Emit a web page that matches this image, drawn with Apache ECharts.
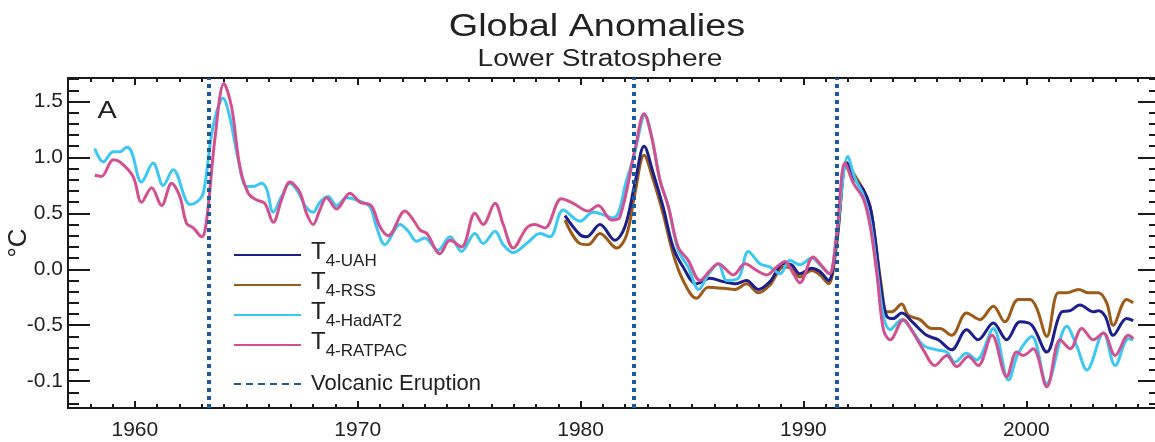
<!DOCTYPE html>
<html>
<head>
<meta charset="utf-8">
<script src="https://cdn.jsdelivr.net/npm/echarts@6/dist/echarts.min.js"></script>
<style>
  html, body { margin: 0; padding: 0; background: #fff; }
  #Echarts_Div { width: 1155px; height: 442px; }
</style>
</head>
<body>
<div id="Echarts_Div"></div>
<script>
var FONT = '"Liberation Sans", Arial, sans-serif';

// HadAT2 radiosonde (1958 - 2005)
var hadYears = [1958.2, 1958.58, 1959.03, 1959.33, 1959.63, 1959.85, 1960.3, 1960.82, 1961.27, 1961.72,
    1962.47, 1962.77, 1963.07, 1963.5, 1963.96, 1964.26, 1964.64, 1965.01, 1965.31, 1965.69,
    1965.91, 1966.21, 1966.58, 1966.96, 1967.33, 1967.63, 1968.0, 1968.3, 1968.67, 1969.05,
    1969.5, 1969.94, 1970.54, 1970.84, 1971.22, 1971.9, 1972.27, 1972.64, 1973.0, 1973.6,
    1974.14, 1974.66, 1975.26, 1975.63, 1976.16, 1976.53, 1976.98, 1977.58, 1978.18, 1978.63,
    1979.22, 1979.97, 1980.57, 1981.47, 1982.07, 1982.44, 1982.89, 1983.2, 1983.56, 1983.94,
    1984.38, 1984.83, 1985.3, 1985.75, 1986.18, 1986.56, 1987.08, 1987.53, 1988.05, 1988.5,
    1988.95, 1989.4, 1989.84, 1990.37, 1990.74, 1991.16, 1991.49, 1992.0, 1992.3, 1992.69,
    1993.0, 1993.3, 1993.59, 1993.89, 1994.41, 1994.85, 1995.38, 1995.98, 1996.43, 1996.8,
    1997.32, 1997.77, 1998.52, 1999.2, 1999.64, 2000.25, 2000.92, 2001.82, 2002.27, 2002.72,
    2003.46, 2003.99, 2004.58, 2004.8];
var hadVals = [1.08, 0.96, 1.05, 1.05, 1.09, 1.05, 0.78, 0.95, 0.75, 0.89,
    0.58, 0.60, 0.68, 1.27, 1.53, 1.36, 0.98, 0.74, 0.74, 0.77,
    0.72, 0.51, 0.65, 0.77, 0.69, 0.57, 0.51, 0.60, 0.65, 0.57,
    0.64, 0.62, 0.56, 0.38, 0.22, 0.40, 0.34, 0.25, 0.28, 0.17,
    0.29, 0.16, 0.32, 0.23, 0.34, 0.22, 0.15, 0.23, 0.32, 0.29,
    0.53, 0.43, 0.51, 0.46, 0.80, 1.05, 1.38, 1.18, 0.80, 0.56,
    0.17, 0.02, -0.18, -0.04, 0.05, -0.10, -0.08, 0.16, 0.05, 0.02,
    -0.04, 0.08, 0.04, 0.10, 0.04, -0.04, 0.30, 1.01, 0.82, 0.66,
    0.43, 0.00, -0.42, -0.54, -0.45, -0.54, -0.68, -0.72, -0.74, -0.83,
    -0.75, -0.81, -0.53, -0.99, -0.75, -0.60, -1.02, -0.51, -0.69, -0.90,
    -0.57, -0.86, -0.62, -0.63];

// RATPAC radiosonde (1958 - 2005)
var ratYears = [1958.2, 1958.5, 1959.03, 1959.33, 1959.92, 1960.3, 1960.75, 1961.2, 1961.65, 1962.02,
    1962.32, 1962.62, 1963.0, 1963.22, 1963.6, 1964.0, 1964.34, 1964.71, 1965.09, 1965.46,
    1965.83, 1966.21, 1966.58, 1966.96, 1967.4, 1967.7, 1968.0, 1968.3, 1968.6, 1969.05,
    1969.65, 1970.1, 1970.6, 1971.0, 1971.37, 1972.12, 1972.5, 1972.8, 1973.1, 1973.69,
    1974.14, 1974.66, 1975.26, 1975.63, 1976.16, 1976.53, 1976.98, 1977.58, 1977.95, 1978.4,
    1979.14, 1979.67, 1980.34, 1980.79, 1981.39, 1981.77, 1982.44, 1982.85, 1983.19, 1983.56,
    1983.94, 1984.38, 1984.83, 1985.36, 1985.81, 1986.18, 1986.85, 1987.38, 1987.9, 1988.35,
    1988.8, 1989.17, 1989.55, 1989.84, 1990.44, 1990.74, 1991.16, 1991.49, 1991.87, 1992.24,
    1992.69, 1993.0, 1993.3, 1993.59, 1993.89, 1994.49, 1994.93, 1995.38, 1995.9, 1996.43,
    1996.88, 1997.4, 1997.84, 1998.46, 1999.12, 1999.57, 1999.87, 2000.31, 2000.92, 2001.52,
    2001.97, 2002.49, 2003.01, 2003.46, 2003.99, 2004.58, 2004.8];
var ratVals = [0.84, 0.83, 0.98, 0.96, 0.83, 0.60, 0.73, 0.57, 0.77, 0.65,
    0.41, 0.37, 0.29, 0.44, 1.18, 1.66, 1.45, 0.92, 0.68, 0.62,
    0.59, 0.42, 0.62, 0.78, 0.69, 0.50, 0.40, 0.53, 0.64, 0.54,
    0.68, 0.60, 0.57, 0.38, 0.30, 0.52, 0.44, 0.35, 0.32, 0.14,
    0.26, 0.20, 0.50, 0.40, 0.59, 0.40, 0.19, 0.37, 0.40, 0.37,
    0.63, 0.59, 0.52, 0.57, 0.44, 0.47, 1.07, 1.39, 1.18, 0.80,
    0.56, 0.20, 0.08, -0.10, -0.01, 0.05, -0.05, 0.05, -0.01, -0.05,
    0.02, 0.07, -0.04, -0.12, 0.11, 0.05, -0.04, 0.32, 0.95, 0.77,
    0.63, 0.38, -0.05, -0.54, -0.63, -0.45, -0.57, -0.72, -0.86, -0.77,
    -0.87, -0.78, -0.86, -0.59, -0.96, -0.74, -0.77, -0.71, -1.05, -0.63,
    -0.71, -0.53, -0.63, -0.57, -0.77, -0.59, -0.62];

// UAH satellite (1979 - 2005)
var uahYears = [1979.3, 1979.97, 1980.27, 1980.87, 1981.54, 1981.99, 1982.44, 1982.85, 1983.26, 1983.7,
    1984.15, 1984.6, 1985.2, 1985.81, 1986.4, 1986.93, 1987.45, 1987.97, 1988.5, 1989.1,
    1989.47, 1989.84, 1990.37, 1990.74, 1991.12, 1991.49, 1991.94, 1992.24, 1992.69, 1992.99,
    1993.2, 1993.5, 1993.74, 1994.03, 1994.41, 1994.93, 1995.53, 1996.05, 1996.65, 1997.32,
    1997.84, 1998.52, 1999.12, 1999.72, 2000.25, 2000.92, 2001.59, 2001.97, 2002.41, 2003.01,
    2003.24, 2003.54, 2003.9, 2004.5, 2004.8];
var uahVals = [0.48, 0.31, 0.29, 0.40, 0.26, 0.38, 0.77, 1.10, 0.86, 0.56,
    0.20, 0.02, -0.13, -0.08, -0.11, -0.13, -0.10, -0.18, -0.11, 0.05,
    0.04, -0.04, 0.01, -0.02, -0.10, 0.26, 0.95, 0.82, 0.71, 0.56,
    0.30, -0.20, -0.42, -0.44, -0.39, -0.48, -0.59, -0.63, -0.72, -0.54,
    -0.63, -0.48, -0.63, -0.47, -0.50, -0.74, -0.38, -0.37, -0.32, -0.38,
    -0.37, -0.42, -0.59, -0.44, -0.46];

// RSS satellite (1979 - 2005)
var rssYears = [1979.3, 1979.97, 1980.34, 1980.87, 1981.62, 1982.07, 1982.44, 1982.85, 1983.26, 1983.7,
    1984.15, 1984.6, 1985.2, 1985.73, 1986.4, 1986.93, 1987.45, 1987.97, 1988.5, 1989.1,
    1989.47, 1989.84, 1990.37, 1990.74, 1991.12, 1991.49, 1991.94, 1992.24, 1992.69, 1992.99,
    1993.2, 1993.5, 1993.74, 1993.96, 1994.41, 1994.7, 1995.23, 1995.75, 1996.12, 1996.65,
    1997.32, 1997.92, 1998.52, 1999.04, 1999.64, 2000.17, 2000.47, 2000.92, 2001.44, 2001.82,
    2002.34, 2002.79, 2003.24, 2003.61, 2003.9, 2004.5, 2004.8];
var rssVals = [0.44, 0.23, 0.22, 0.32, 0.19, 0.31, 0.68, 1.02, 0.80, 0.50,
    0.14, -0.10, -0.26, -0.16, -0.17, -0.18, -0.13, -0.21, -0.14, 0.02,
    0.01, -0.07, -0.01, -0.05, -0.13, 0.22, 0.96, 0.86, 0.71, 0.56,
    0.30, -0.15, -0.38, -0.38, -0.31, -0.41, -0.45, -0.53, -0.53, -0.59,
    -0.39, -0.45, -0.33, -0.47, -0.27, -0.27, -0.35, -0.60, -0.21, -0.21,
    -0.18, -0.21, -0.21, -0.30, -0.50, -0.27, -0.30];

var volcanoYears = [1963.3, 1982.4, 1991.5];

var xLabelYears = [1960, 1970, 1980, 1990, 2000];
var yTickValues = [-1, -0.5, 0, 0.5, 1, 1.5];
var yTickLabels = ['-0.1', '-0.5', '0.0', '0.5', '1.0', '1.5'];

var X_MIN = 1957, X_MAX = 2006, Y_MIN = -1.24, Y_MAX = 1.71;
var AXIS_COLOR = '#1a1a1a';

function pairs(xs, ys) {
    var out = [];
    for (var i = 0; i < xs.length; i++) out.push([xs[i], ys[i]]);
    return out;
}

// minor tick positions (every year, every 0.1 degC)
var minorYears = [];
for (var y = X_MIN; y <= 2005; y++) minorYears.push(y);
var minorTemps = [];
for (var k = -12; k <= 17; k++) minorTemps.push(k / 10);

function xAx(pos, values, len, labels) {
    return {
        type: 'value', position: pos, min: X_MIN, max: X_MAX,
        axisLine: {show: true, onZero: false, lineStyle: {color: AXIS_COLOR, width: 2}},
        axisTick: {show: true, inside: true, length: len, customValues: values,
                   lineStyle: {color: AXIS_COLOR, width: 2}},
        axisLabel: labels ? {show: true, customValues: values, fontSize: 21, fontFamily: FONT,
                             color: '#222', margin: 12,
                             formatter: function (v) { return String(Math.round(v)); }}
                          : {show: false},
        splitLine: {show: false}
    };
}
function yAx(pos, values, len, labels) {
    var ax = {
        type: 'value', position: pos, min: Y_MIN, max: Y_MAX,
        axisLine: {show: true, onZero: false, lineStyle: {color: AXIS_COLOR, width: 2}},
        axisTick: {show: true, inside: true, length: len, customValues: values,
                   lineStyle: {color: AXIS_COLOR, width: 2}},
        axisLabel: {show: false},
        splitLine: {show: false}
    };
    if (labels) {
        ax.axisLabel = {show: true, customValues: values, fontSize: 21, fontFamily: FONT,
            color: '#222', margin: 5,
            formatter: function (v) {
                for (var i = 0; i < yTickValues.length; i++) {
                    if (Math.abs(yTickValues[i] - v) < 1e-6) return yTickLabels[i];
                }
                return '';
            }};
        ax.name = '°C';
        ax.nameLocation = 'middle';
        ax.nameGap = 36;
        ax.nameMoveOverlap = false;
        ax.nameRotate = 90;
        ax.nameTextStyle = {fontSize: 26, fontFamily: FONT, color: '#222'};
    }
    return ax;
}

function lineSeries(name, data, color) {
    return {
        name: name, type: 'line', data: data, smooth: 0.35,
        symbol: 'none', showSymbol: false,
        lineStyle: {color: color, width: 3},
        itemStyle: {color: color},
        xAxisIndex: 0, yAxisIndex: 0
    };
}

function drawChart() {
    var chartDom = document.getElementById('Echarts_Div');
    var myChart = echarts.init(chartDom, null, {renderer: 'canvas'});
    var VOLC = 'Volcanic Eruption';
    var legendCommon = {
        orient: 'vertical', left: 228,
        itemWidth: 67, itemHeight: 10, itemGap: 0,
        selectedMode: false,
        itemStyle: {opacity: 0}
    };
    var option = {
        animation: false,
        backgroundColor: '#fff',
        grid: {left: 68, right: -5, top: 78, bottom: 34, outerBoundsMode: 'none'},
        xAxis: [
            xAx('bottom', xLabelYears, 7, true),
            xAx('bottom', minorYears, 4, false),
            xAx('top', xLabelYears, 7, false),
            xAx('top', minorYears, 4, false)
        ],
        yAxis: [
            yAx('left', yTickValues, 22, true),
            yAx('left', minorTemps, 11, false),
            yAx('right', yTickValues, 22, false),
            yAx('right', minorTemps, 11, false)
        ],
        graphic: [
            {type: 'text', x: 597, y: 27.5, scaleX: 1.22, style: {text: 'Global Anomalies',
                font: '31px ' + FONT, fill: '#222', align: 'center', verticalAlign: 'middle'}},
            {type: 'text', x: 600, y: 60, scaleX: 1.22, style: {text: 'Lower Stratosphere',
                font: '23px ' + FONT, fill: '#222', align: 'center', verticalAlign: 'middle'}},
            {type: 'text', x: 107, y: 111, scaleX: 1.2, style: {text: 'A',
                font: '24px ' + FONT, fill: '#222', align: 'center', verticalAlign: 'middle'}}
        ],
        legend: [
            Object.assign({}, legendCommon, {
                top: 235,
                data: ['T4-UAH', 'T4-RSS', 'T4-HadAT2', 'T4-RATPAC'],
                formatter: function (name) {
                    return '{t|T}{s|' + name.slice(1) + '}';
                },
                textStyle: {
                    fontFamily: FONT, color: '#222',
                    rich: {
                        t: {fontSize: 24, fontFamily: FONT, color: '#222', padding: [0, 0, 0, 5], verticalAlign: 'top'},
                        s: {fontSize: 17, fontFamily: FONT, color: '#222', padding: [13, 0, 0, 0], verticalAlign: 'bottom'}
                    }
                }
            }),
            Object.assign({}, legendCommon, {
                top: 368,
                data: [VOLC],
                textStyle: {fontSize: 22, fontFamily: FONT, color: '#222', padding: [0, 0, 0, 5]}
            })
        ],
        series: [
            lineSeries('T4-RSS', pairs(rssYears, rssVals), '#9c5b18'),
            lineSeries('T4-UAH', pairs(uahYears, uahVals), '#1c1f8c'),
            lineSeries('T4-HadAT2', pairs(hadYears, hadVals), '#3dc7f3'),
            lineSeries('T4-RATPAC', pairs(ratYears, ratVals), '#d2508f'),
            {
                name: VOLC, type: 'line', data: [], symbol: 'none',
                lineStyle: {color: '#1d5a98', width: 4, type: [7, 5]},
                itemStyle: {color: '#1d5a98'},
                z: 5,
                markLine: {
                    silent: true, symbol: ['none', 'none'], label: {show: false},
                    lineStyle: {color: '#1d5a98', width: 4, type: [4, 4]},
                    data: volcanoYears.map(function (v) { return {xAxis: v}; })
                }
            }
        ]
    };
    myChart.setOption(option);
}
window.onload = function () {
    drawChart();
};
</script>
</body>
</html>
